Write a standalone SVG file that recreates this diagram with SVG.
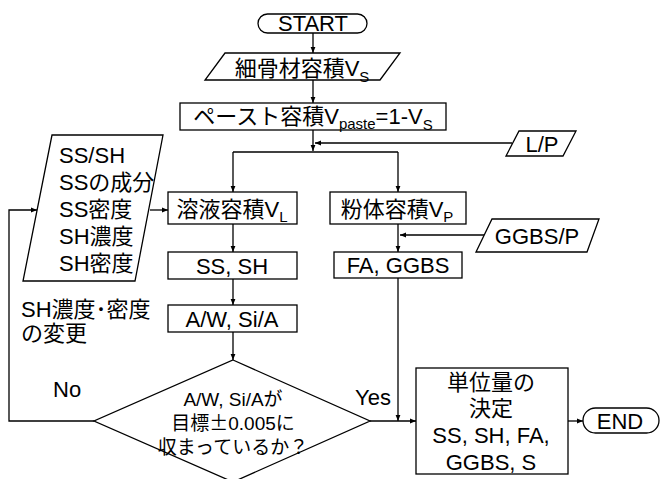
<svg xmlns="http://www.w3.org/2000/svg" width="660" height="479" viewBox="0 0 660 479">
<defs>
<marker id="ah" viewBox="0 0 10 10" refX="10" refY="5" markerWidth="6" markerHeight="6" markerUnits="userSpaceOnUse" orient="auto">
<path d="M0,1 L10,5 L0,9 z" fill="#000"/>
</marker>
<style>
.s{fill:#fff;stroke:#000;stroke-width:1.3}
.c{fill:none;stroke:#000;stroke-width:1.3}
.a{fill:none;stroke:#000;stroke-width:1.3;marker-end:url(#ah)}
text{font-family:"Liberation Sans","Noto Sans CJK JP",sans-serif;font-size:22px;fill:#000}
.m{text-anchor:middle}
.sm{font-size:19px}
.sub{font-size:15px}
.cjk{font-family:"Noto Sans CJK JP",sans-serif}
</style>
</defs>
<rect width="660" height="479" fill="#fff"/>
<g id="connectors">
<path class="a" d="M313,33 V53"/>
<path class="a" d="M313,80 V103"/>
<path class="a" d="M313,130 V151"/>
<path class="a" d="M512,143 H315"/>
<path class="c" d="M233,152 H398"/>
<path class="a" d="M233,152 V192"/>
<path class="a" d="M398,152 V192"/>
<path class="a" d="M150,210 H168"/>
<path class="a" d="M233,224 V252"/>
<path class="a" d="M233,279 V305"/>
<path class="a" d="M233,332 V360"/>
<path class="a" d="M398,224 V252"/>
<path class="a" d="M484,235 H400"/>
<path class="a" d="M398,278 V421"/>
<path class="a" d="M370,421 H416"/>
<path class="a" d="M568,421 H583"/>
<path class="a" d="M94,421 H9 V210 H37"/>
</g>
<g id="start">
<rect class="s" x="258" y="14" width="109" height="19" rx="9.5"/>
<text class="m" x="313" y="31">START</text>
</g>
<g id="fine-agg">
<polygon class="s" points="225,53 400,53 380,80 205,80"/>
<text class="m" x="302" y="76">細骨材容積V<tspan class="sub" dy="6">S</tspan></text>
</g>
<g id="paste">
<rect class="s" x="180" y="103" width="266" height="27"/>
<text class="m" x="313" y="124">ペースト容積V<tspan class="sub" dy="5">paste</tspan><tspan dy="-5">=1-V</tspan><tspan class="sub" dy="6">S</tspan></text>
</g>
<g id="lp">
<polygon class="s" points="519,131 576,131 563,156 506,156"/>
<text class="m" x="542" y="152">L/P</text>
</g>
<g id="inputs">
<polygon class="s" points="52,135 163,135 135,281 23,281"/>
<text x="59" y="163">SS/SH</text>
<text x="59" y="190">SSの成分</text>
<text x="59" y="217">SS密度</text>
<text x="59" y="244">SH濃度</text>
<text x="59" y="271">SH密度</text>
</g>
<g id="solution">
<rect class="s" x="168" y="192" width="129" height="32"/>
<text class="m" x="232" y="217">溶液容積V<tspan class="sub" dy="5">L</tspan></text>
</g>
<g id="powder">
<rect class="s" x="330" y="192" width="136" height="32"/>
<text class="m" x="397" y="217">粉体容積V<tspan class="sub" dy="5">P</tspan></text>
</g>
<g id="ggbsp">
<polygon class="s" points="492,219 599,219 587,252 476,252"/>
<text class="m" x="537" y="244">GGBS/P</text>
</g>
<g id="sssh">
<rect class="s" x="168" y="252" width="129" height="27"/>
<text class="m" x="232" y="274">SS, SH</text>
</g>
<g id="fagbs">
<rect class="s" x="334" y="252" width="128" height="26"/>
<text class="m" x="398" y="273">FA, GGBS</text>
</g>
<g id="awsia">
<rect class="s" x="168" y="305" width="129" height="27"/>
<text class="m" x="232" y="327">A/W, Si/A</text>
</g>
<g id="decision">
<polygon class="s" points="233,360 370,421 233,482 94,421"/>
<text class="m sm" x="233" y="406">A/W, Si/Aが</text>
<text class="m sm" x="233" y="430">目標<tspan class="cjk">±</tspan>0.005に</text>
<text class="m sm" x="233" y="454">収まっているか？</text>
</g>
<g id="labels">
<text x="21" y="317">SH濃度･密度</text>
<text x="21" y="341">の変更</text>
<text x="53" y="397">No</text>
<text x="355" y="405">Yes</text>
</g>
<g id="result">
<rect class="s" x="416" y="368" width="152" height="106"/>
<text class="m" x="491" y="390">単位量の</text>
<text class="m" x="491" y="416">決定</text>
<text class="m" x="491" y="443">SS, SH, FA,</text>
<text class="m" x="491" y="470">GGBS, S</text>
</g>
<g id="end">
<rect class="s" x="583" y="408" width="76" height="25" rx="12.5"/>
<text class="m" x="620" y="429">END</text>
</g>
</svg>
